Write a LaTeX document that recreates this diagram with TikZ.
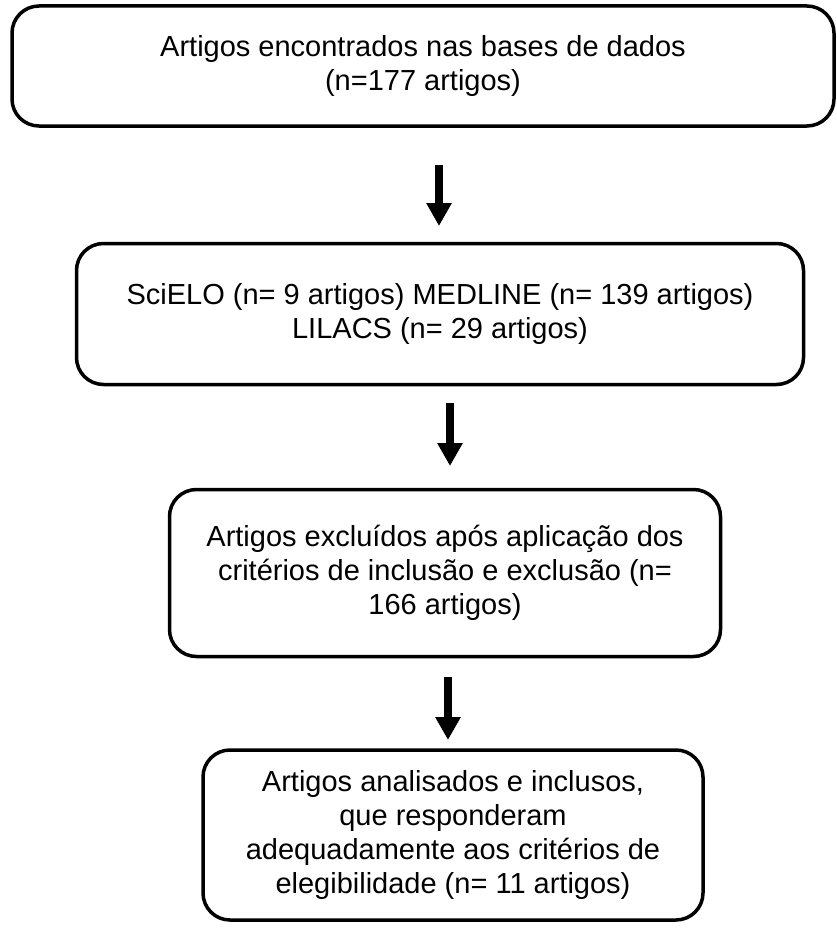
\documentclass[tikz,border=0pt]{standalone}
\usepackage{fontspec}
\setmainfont{Liberation Sans}
\usetikzlibrary{arrows.meta}

\tikzset{
  flowbox/.style={draw, line width=3.5pt, rounded corners=27pt, align=center,
    inner sep=0pt, font=\fontsize{29}{34}\selectfont},
  flowarrow/.style={line width=7.5pt, -{Triangle[width=24pt,length=23pt]}}
}

\begin{document}
\begin{tikzpicture}[x=1pt, y=1pt]
\useasboundingbox (0,0) rectangle (836,-934);
\node[flowbox, minimum width=822, minimum height=120] (found) at (423,-66)
  {Artigos encontrados nas bases de dados\\(n=177 artigos)};
\node[flowbox, minimum width=727, minimum height=141] (bases) at (440,-314)
  {SciELO (n= 9 artigos) MEDLINE (n= 139 artigos)\\LILACS (n= 29 artigos)};
\node[flowbox, minimum width=551, minimum height=167] (excl) at (445,-573)
  {Artigos excluídos após aplicação dos\\critérios de inclusão e exclusão (n=\\166 artigos)};
\node[flowbox, minimum width=500, minimum height=170] (incl) at (453,-835)
  {Artigos analisados e inclusos,\\que responderam\\adequadamente aos critérios de\\elegibilidade (n= 11 artigos)};
% arrows between the boxes
\coordinate (a1s) at (439,-165);
\coordinate (a1e) at (439,-226);
\coordinate (a2s) at (450,-403);
\coordinate (a2e) at (450,-466);
\coordinate (a3s) at (448,-677);
\coordinate (a3e) at (448,-740);
\draw[flowarrow] (a1s) -- (a1e);
\draw[flowarrow] (a2s) -- (a2e);
\draw[flowarrow] (a3s) -- (a3e);
\end{tikzpicture}
\end{document}
